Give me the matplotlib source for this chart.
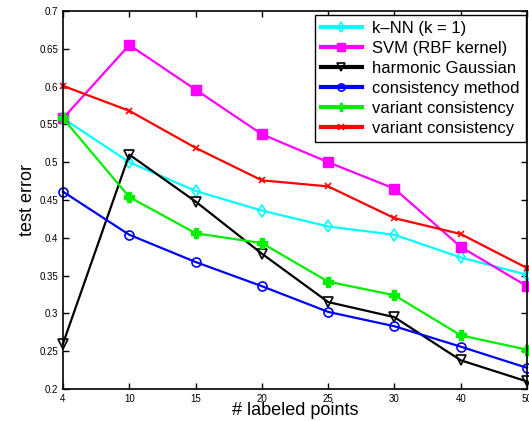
import matplotlib; matplotlib.use("Agg")
import matplotlib.pyplot as plt

plt.rcParams["font.family"] = ["Liberation Sans", "DejaVu Sans"]

x_labels = ["4", "10", "15", "20", "25", "30", "40", "50"]
knn      = [0.558, 0.500, 0.462, 0.436, 0.415, 0.404, 0.374, 0.351]
svm      = [0.558, 0.655, 0.596, 0.537, 0.500, 0.465, 0.388, 0.336]
harmonic = [0.260, 0.510, 0.448, 0.379, 0.315, 0.295, 0.238, 0.210]
consist  = [0.461, 0.404, 0.368, 0.336, 0.302, 0.283, 0.256, 0.228]
variant1 = [0.558, 0.454, 0.406, 0.393, 0.342, 0.324, 0.271, 0.252]
variant2 = [0.601, 0.568, 0.519, 0.476, 0.468, 0.426, 0.405, 0.360]

series = [
    ("k\u2013NN (k = 1)",      knn,      "#00ffff", dict(marker="d", ms=6, mfc="none", mew=1.2)),
    ("SVM (RBF kernel)",       svm,      "#ff00ff", dict(marker="s", ms=7)),
    ("harmonic Gaussian",      harmonic, "#000000", dict(marker="v", ms=7, mfc="none", mew=1.2)),
    ("consistency method",     consist,  "#0000ff", dict(marker="o", ms=6.5, mfc="none", mew=1.2)),
    ("variant consistency",    variant1, "#00ee00", dict(marker="P", ms=7)),
    ("variant consistency",    variant2, "#ff0000", dict(marker="x", ms=5, mew=1.2)),
]

fig = plt.figure(figsize=(5.29, 4.21), dpi=100)
ax = fig.add_axes([63/529, 1 - 389/421, 464/529, 378/421])
xs = list(range(len(x_labels)))
for lab, ys, col, mk in series:
    ax.plot(xs, ys, color=col, lw=1.6, label=lab, clip_on=False, **mk)

ax.set_xlim(0, 7); ax.set_ylim(0.2, 0.7)
ax.set_xticks(xs); ax.set_xticklabels(x_labels)
ax.set_yticks([0.2 + 0.05 * i for i in range(11)])
ax.set_yticklabels(["0.2", "0.25", "0.3", "0.35", "0.4", "0.45", "0.5", "0.55", "0.6", "0.65", "0.7"])
ax.tick_params(direction="in", top=True, right=True, labelsize=7, length=4, width=1)
for s in ax.spines.values(): s.set_linewidth(1.2)
ax.set_xlabel("# labeled points", fontsize=13, labelpad=-1)
ax.set_ylabel("test error", fontsize=13, labelpad=2)

leg = ax.legend(loc="upper right", bbox_to_anchor=(1.004, 0.998), fontsize=12, markerscale=0.8,
                handlelength=2.5, labelspacing=0.3, borderpad=0.35, handletextpad=0.6,
                borderaxespad=0.2, fancybox=False, framealpha=1, numpoints=1)
leg.get_frame().set_edgecolor("black"); leg.get_frame().set_linewidth(1)
for h in leg.get_lines(): h.set_linewidth(3)

fig.savefig("out.png", dpi=100)
